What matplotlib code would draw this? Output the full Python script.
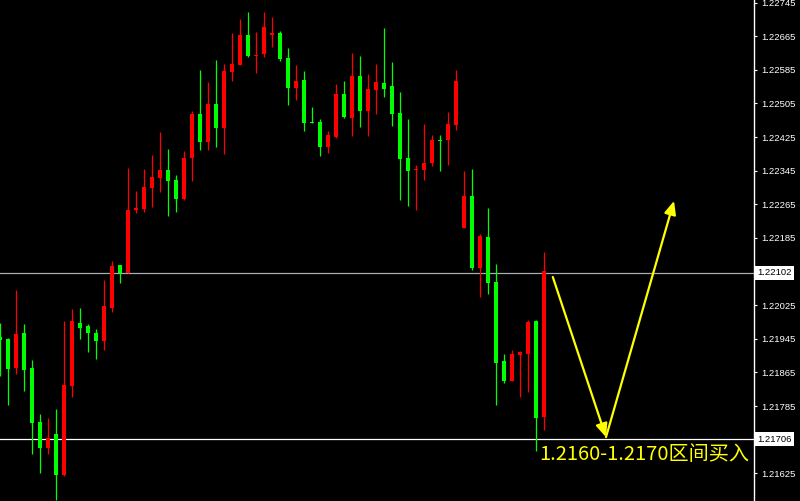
#!/usr/bin/env python3
"""EURUSD-style candlestick chart with buy-zone annotation."""

import matplotlib

matplotlib.use("Agg")
import matplotlib.pyplot as plt
import matplotlib.transforms as mtransforms
import numpy as np

# OHLC per bar (red = up, green = down)
OPEN = [1.21949, 1.21944, 1.21875, 1.21958, 1.21875, 1.21747, 1.21685, 1.21718, 1.21621, 1.21832,
        1.21982, 1.21975, 1.21958, 1.21939, 1.22018, 1.22120, 1.22101, 1.22251, 1.22254, 1.22304,
        1.22327, 1.22346, 1.22322, 1.22277, 1.22375, 1.22480, 1.22413, 1.22503, 1.22446, 1.22580,
        1.22596, 1.22668, 1.22618, 1.22622, 1.22668, 1.22672, 1.22613, 1.22542, 1.22561, 1.22461,
        1.22461, 1.22401, 1.22425, 1.22527, 1.22470, 1.22570, 1.22487, 1.22537, 1.22553, 1.22546,
        1.22482, 1.22375, 1.22346, 1.22346, 1.22363, 1.22418, 1.22418, 1.22453, 1.22208, 1.22284,
        1.22113, 1.22187, 1.22080, 1.21892, 1.21844, 1.21906, 1.21908, 1.21987, 1.21759]
HIGH = [1.21982, 1.21946, 1.22061, 1.21980, 1.21894, 1.21766, 1.21756, 1.21778, 1.21987, 1.22016,
        1.22018, 1.21980, 1.21968, 1.22085, 1.22130, 1.22120, 1.22351, 1.22296, 1.22349, 1.22382,
        1.22437, 1.22396, 1.22334, 1.22392, 1.22487, 1.22584, 1.22556, 1.22608, 1.22599, 1.22672,
        1.22706, 1.22722, 1.22675, 1.22722, 1.22711, 1.22677, 1.22637, 1.22596, 1.22582, 1.22496,
        1.22468, 1.22439, 1.22551, 1.22558, 1.22625, 1.22618, 1.22575, 1.22599, 1.22684, 1.22603,
        1.22532, 1.22468, 1.22358, 1.22456, 1.22430, 1.22430, 1.22484, 1.22584, 1.22344, 1.22349,
        1.22194, 1.22256, 1.22123, 1.21908, 1.21918, 1.21916, 1.21989, 1.21989, 1.22151]
LOW = [1.21856, 1.21787, 1.21861, 1.21820, 1.21670, 1.21625, 1.21670, 1.21561, 1.21618, 1.21806,
       1.21944, 1.21913, 1.21896, 1.21918, 1.22008, 1.22077, 1.22101, 1.22244, 1.22246, 1.22258,
       1.22294, 1.22237, 1.22246, 1.22275, 1.22320, 1.22394, 1.22394, 1.22401, 1.22384, 1.22558,
       1.22596, 1.22615, 1.22577, 1.22615, 1.22639, 1.22606, 1.22501, 1.22513, 1.22439, 1.22458,
       1.22380, 1.22387, 1.22423, 1.22470, 1.22427, 1.22449, 1.22427, 1.22480, 1.22520, 1.22451,
       1.22275, 1.22261, 1.22251, 1.22322, 1.22356, 1.22344, 1.22358, 1.22442, 1.22208, 1.22108,
       1.22044, 1.22051, 1.21787, 1.21840, 1.21844, 1.21806, 1.21818, 1.21678, 1.21728]
CLOSE = [1.21942, 1.21873, 1.21956, 1.21870, 1.21744, 1.21685, 1.21709, 1.21621, 1.21835, 1.21987,
         1.21970, 1.21958, 1.21939, 1.22023, 1.22118, 1.22101, 1.22251, 1.22256, 1.22306, 1.22330,
         1.22346, 1.22320, 1.22277, 1.22375, 1.22480, 1.22413, 1.22503, 1.22446, 1.22582, 1.22599,
         1.22668, 1.22618, 1.22620, 1.22687, 1.22672, 1.22611, 1.22542, 1.22558, 1.22458, 1.22458,
         1.22401, 1.22430, 1.22527, 1.22472, 1.22570, 1.22487, 1.22539, 1.22556, 1.22539, 1.22480,
         1.22373, 1.22344, 1.22349, 1.22363, 1.22418, 1.22415, 1.22456, 1.22558, 1.22284, 1.22113,
         1.22189, 1.22077, 1.21887, 1.21844, 1.21908, 1.21913, 1.21985, 1.21756, 1.22106]

Y_TICKS = [1.22745, 1.22665, 1.22585, 1.22505, 1.22425, 1.22345, 1.22265, 1.22185,
           1.22025, 1.21945, 1.21865, 1.21785, 1.21625]
LEVELS = [1.22102, 1.21706]
LEVEL_COLORS = ["#a8acb4", "#ffffff"]

# projected path: from last close down to buy zone, then up
PATH_DOWN = [(69.1, 1.22092), (75.75, 1.21711)]
PATH_UP = [(75.75, 1.21711), (84.25, 1.22273)]
NOTE = "1.2160-1.2170区间买入"
NOTE_POS = (67.4, 1.21670)

UP_COLOR = "#ff0000"
DOWN_COLOR = "#00ff00"


def main():
    fig = plt.figure(figsize=(8.0, 5.01), dpi=100, facecolor="black")
    ax = fig.add_axes([0, 0, 754 / 800, 1])
    ax.set_facecolor("black")

    o = np.array(OPEN)
    h = np.array(HIGH)
    l = np.array(LOW)
    c = np.array(CLOSE)
    x = np.arange(len(o))
    colors = np.where(c >= o, UP_COLOR, DOWN_COLOR)

    ax.vlines(x, l, h, colors=colors, linewidth=0.9, zorder=2)
    bottom = np.minimum(o, c)
    height = np.maximum(np.abs(c - o), 0.00003)
    ax.bar(x, height, bottom=bottom, width=0.62, color=colors, linewidth=0, zorder=3)

    for lvl, col in zip(LEVELS, LEVEL_COLORS):
        ax.axhline(lvl, color=col, linewidth=0.9, zorder=1)

    for (x0, y0), (x1, y1) in (PATH_DOWN, PATH_UP):
        ax.annotate("", xy=(x1, y1), xytext=(x0, y0),
                    arrowprops=dict(arrowstyle="-|>,head_length=0.5,head_width=0.22",
                                    color="#ffff00", lw=1.6,
                                    mutation_scale=16, shrinkA=0, shrinkB=0),
                    zorder=4)

    ax.text(NOTE_POS[0], NOTE_POS[1], NOTE, color="#ffff00", fontsize=14.5,
            family=["Noto Sans CJK SC", "DejaVu Sans"], ha="left", va="center", zorder=5)

    ax.set_xlim(0, 94.25)
    ax.set_ylim(1.21559, 1.22751)

    for side in ("top", "left", "bottom"):
        ax.spines[side].set_visible(False)
    ax.spines["right"].set_color("white")
    ax.spines["right"].set_linewidth(1.0)
    ax.set_xticks([])
    ax.yaxis.tick_right()
    ax.set_yticks(Y_TICKS)
    ax.set_yticklabels([f"{t:.5f}" for t in Y_TICKS])
    ax.tick_params(axis="y", colors="white", length=2, width=0.8, pad=3,
                   labelsize=6.8, labelfontfamily="Liberation Sans")

    trans = mtransforms.blended_transform_factory(ax.transAxes, ax.transData)
    for lvl in LEVELS:
        ax.text(1.004, lvl, f"{lvl:.5f}", transform=trans, color="black", fontsize=6.8,
                family="Liberation Sans", ha="left", va="center", clip_on=False,
                bbox=dict(boxstyle="square,pad=0.25", facecolor="white", edgecolor="none"))

    fig.savefig("out.png", dpi=100, facecolor="black")
    plt.close(fig)


if __name__ == "__main__":
    main()
